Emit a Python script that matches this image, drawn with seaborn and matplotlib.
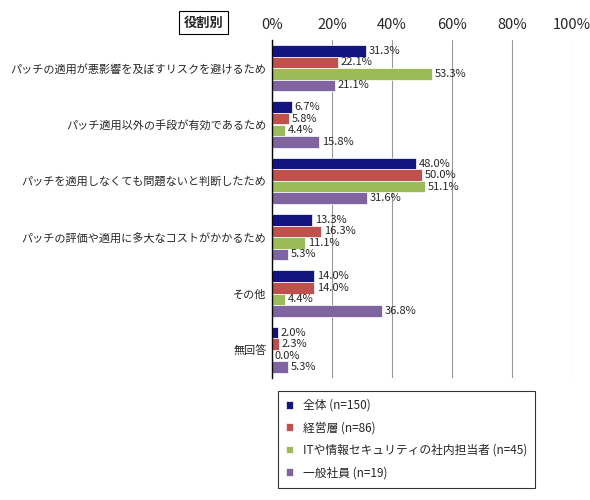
import matplotlib
matplotlib.use("Agg")
import matplotlib.pyplot as plt
import seaborn as sns
import pandas as pd

categories = ["パッチの適用が悪影響を及ぼすリスクを避けるため", "パッチ適用以外の手段が有効であるため",
              "パッチを適用しなくても問題ないと判断したため", "パッチの評価や適用に多大なコストがかかるため",
              "その他", "無回答"]
series = ["全体 (n=150)", "経営層 (n=86)", "ITや情報セキュリティの社内担当者 (n=45)", "一般社員 (n=19)"]
v_all = [31.3, 6.7, 48.0, 13.3, 14.0, 2.0]
v_exec = [22.1, 5.8, 50.0, 16.3, 14.0, 2.3]
v_it = [53.3, 4.4, 51.1, 11.1, 4.4, 0.0]
v_emp = [21.1, 15.8, 31.6, 5.3, 36.8, 5.3]
ticks = ["0%", "20%", "40%", "60%", "80%", "100%"]

sns.set_theme(style="white")
plt.rcParams['font.family'] = ['Noto Sans CJK JP', 'DejaVu Sans']

rows = []
for s, vals in zip(series, [v_all, v_exec, v_it, v_emp]):
    for c, v in zip(categories, vals):
        rows.append({"cat": c, "series": s, "val": v})
df = pd.DataFrame(rows)
colors = ["#14147F", "#C0504D", "#9BBB59", "#8064A2"]

fig = plt.figure(figsize=(5.9, 5.0), dpi=100)
ax = fig.add_axes([0.461, 0.244, 0.508, 0.676])
sns.barplot(data=df, y="cat", x="val", hue="series", palette=colors, orient="h", saturation=1,
            width=0.82, ax=ax, edgecolor="white", linewidth=0.5, legend=True)
for cont in ax.containers:
    ax.bar_label(cont, labels=[f"{v:.1f}%" for v in cont.datavalues], padding=2, fontsize=8)
ax.set_xlim(0, 100)
ax.set_xticks([0, 20, 40, 60, 80, 100])
ax.set_xticklabels(ticks, fontsize=10.5)
ax.xaxis.tick_top()
ax.tick_params(axis="x", length=0, pad=6)
ax.tick_params(axis="y", length=0, labelsize=8, pad=4)
ax.set_xlabel("")
ax.set_ylabel("")
ax.grid(axis="x", color="#999999", linewidth=0.8)
ax.set_axisbelow(True)
for s in ["top", "right", "bottom"]:
    ax.spines[s].set_visible(False)
ax.spines["left"].set_color("black")
ax.spines["left"].set_linewidth(1)
leg = ax.legend(loc="upper left", bbox_to_anchor=(0.0, -0.02), frameon=True, fontsize=8.5,
                handlelength=0.6, handleheight=0.6, labelspacing=0.8, borderpad=0.7)
leg.get_frame().set_edgecolor("black")
leg.get_frame().set_boxstyle("square", pad=0)
leg.get_frame().set_linewidth(0.8)
fig.text(0.345, 0.955, "役割別", fontsize=9.5, fontweight="bold", ha="center", va="center",
         bbox=dict(boxstyle="square,pad=0.35", fc="white", ec="black", lw=0.8))
fig.savefig("out.png", dpi=100)
